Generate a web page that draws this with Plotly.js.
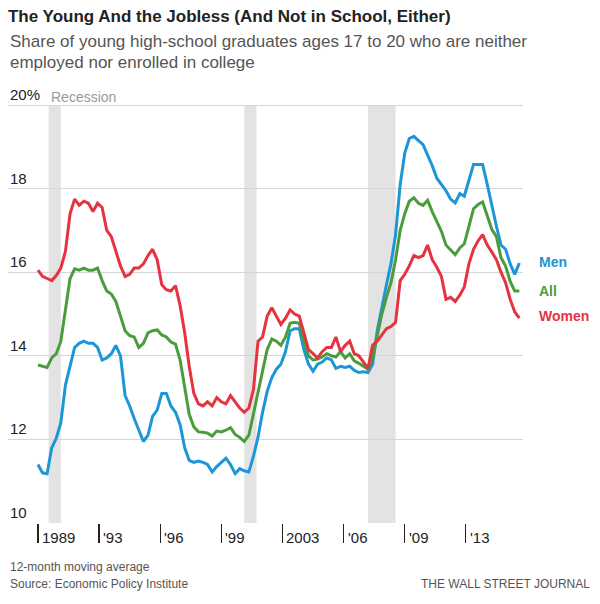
<!DOCTYPE html>
<html>
<head>
<meta charset="utf-8">
<script src="https://cdn.plot.ly/plotly-3.0.1.min.js"></script>
<style>
  body { margin: 0; background: #fff; }
  #chart { width: 600px; height: 604px; }
</style>
</head>
<body>
<div id="chart"></div>
<script>
// quarterly readings, first one is Dec 1989
var startYear = 1989, startMonth = 12;

var men = [11.4, 11.2, 11.18, 11.8, 12.03, 12.4, 13.3, 13.73, 14.2, 14.3,
  14.35, 14.3, 14.3, 14.2, 13.9, 13.95, 14.05, 14.25, 14.0, 13.05,
  12.8, 12.5, 12.2, 11.95, 12.1, 12.55, 12.7, 13.1, 13.1, 12.8,
  12.65, 12.35, 11.8, 11.5, 11.45, 11.48, 11.45, 11.4, 11.22, 11.35,
  11.45, 11.55, 11.4, 11.18, 11.3, 11.25, 11.22, 11.6, 12.06, 12.65,
  13.15, 13.48, 13.68, 13.8, 14.1, 14.6, 14.65, 14.65, 14.15, 13.8,
  13.63, 13.8, 13.85, 13.95, 13.9, 13.7, 13.75, 13.72, 13.75, 13.65,
  13.6, 13.62, 13.6, 13.8, 14.6, 15.2, 15.7, 16.2, 16.9, 18.1,
  18.85, 19.2, 19.25, 19.15, 19.05, 18.8, 18.55, 18.25, 18.1, 17.95,
  17.75, 17.66, 17.88, 17.82, 18.2, 18.58, 18.58, 18.58, 18.1, 17.56,
  17.1, 16.65, 16.55, 16.2, 15.95, 16.22];

var all = [13.78, 13.75, 13.72, 13.95, 14.05, 14.35, 15.1, 15.85, 16.08, 16.05,
  16.1, 16.05, 16.05, 16.1, 15.8, 15.55, 15.48, 15.3, 14.95, 14.6,
  14.48, 14.45, 14.2, 14.3, 14.55, 14.6, 14.62, 14.5, 14.45, 14.33,
  14.28, 13.9, 13.25, 12.6, 12.3, 12.18, 12.17, 12.15, 12.08, 12.2,
  12.18, 12.22, 12.28, 12.12, 12.05, 11.95, 12.1, 12.6, 13.1, 13.6,
  14.15, 14.4, 14.35, 14.25, 14.45, 14.78, 14.8, 14.78, 14.4, 14.0,
  13.9, 13.92, 13.97, 14.05, 14.0, 13.97, 14.1, 13.95, 14.05, 13.88,
  13.82, 13.75, 13.68, 13.95, 14.5, 15.0, 15.4, 15.75, 16.3, 17.0,
  17.4, 17.7, 17.78, 17.65, 17.6, 17.72, 17.45, 17.22, 16.98, 16.65,
  16.53, 16.42, 16.58, 16.68, 17.1, 17.52, 17.62, 17.68, 17.35, 17.02,
  16.85, 16.35, 16.15, 15.78, 15.55, 15.55];

var women = [16.05, 15.9, 15.85, 15.8, 15.92, 16.1, 16.5, 17.4, 17.75, 17.6,
  17.7, 17.65, 17.45, 17.65, 17.55, 17.0, 16.85, 16.5, 16.15, 15.9,
  15.95, 16.1, 16.1, 16.2, 16.4, 16.55, 16.3, 15.7, 15.58, 15.55,
  15.68, 15.2, 14.55, 13.75, 13.1, 12.85, 12.8, 12.9, 12.8, 13.0,
  12.9, 12.85, 13.05, 12.9, 12.75, 12.65, 12.75, 13.2, 14.35, 14.45,
  14.95, 15.15, 14.95, 14.75, 14.9, 15.1, 15.0, 14.95, 14.55, 14.15,
  14.05, 13.95, 14.1, 14.2, 14.2, 14.45, 14.1, 14.25, 14.35, 14.05,
  14.0, 13.85, 13.7, 14.25, 14.35, 14.5, 14.65, 14.7, 14.8, 15.8,
  15.95, 16.15, 16.4, 16.35, 16.4, 16.65, 16.3, 16.12, 15.9, 15.35,
  15.4, 15.3, 15.45, 15.65, 16.2, 16.55, 16.75, 16.9, 16.65, 16.48,
  16.3, 16.0, 15.75, 15.35, 15.05, 14.9];

var recStart = ['1990-07-01', '2001-03-01', '2007-12-01'];
var recEnd = ['1991-03-01', '2001-11-01', '2009-06-01'];

var tickVals = ['1989-12-01', '1993-04-01', '1996-08-01', '1999-12-01',
  '2003-04-01', '2006-08-01', '2009-12-01', '2013-04-01'];
var tickText = ['1989', "'93", "'96", "'99", '2003', "'06", "'09", "'13"];

var yTicks = [10, 12, 14, 16, 18, 20];
var yText = ['10', '12', '14', '16', '18', '20%'];

var colors = { men: '#1c96d6', all: '#4b9c3c', women: '#e5333f' };

// build the quarterly dates
var dates = [];
for (var i = 0; i < men.length; i++) {
  var m = startMonth - 1 + i * 3;
  var y = startYear + Math.floor(m / 12);
  var mm = (m % 12) + 1;
  dates.push(y + '-' + (mm < 10 ? '0' + mm : mm) + '-01');
}

var font = 'Liberation Sans, Arial, Helvetica, sans-serif';

var data = [
  { x: dates, y: men, type: 'scatter', mode: 'lines', name: 'Men',
    line: { color: colors.men, width: 3 }, hoverinfo: 'skip' },
  { x: dates, y: all, type: 'scatter', mode: 'lines', name: 'All',
    line: { color: colors.all, width: 3 }, hoverinfo: 'skip' },
  { x: dates, y: women, type: 'scatter', mode: 'lines', name: 'Women',
    line: { color: colors.women, width: 3 }, hoverinfo: 'skip' }
];

// recession bands run from the 10 line up to the 20 line
var shapes = recStart.map(function (s, i) {
  return { type: 'rect', xref: 'x', yref: 'y', x0: s, x1: recEnd[i], y0: 10, y1: 20,
    fillcolor: '#e3e3e3', line: { width: 0 }, layer: 'below' };
});

// x labels sit to the right of each tick
var annotations = tickVals.map(function (t, i) {
  return { x: t, xref: 'x', y: -0.034, yref: 'paper', text: tickText[i],
    xanchor: 'left', yanchor: 'middle', xshift: 2, showarrow: false,
    font: { family: font, size: 15, color: '#222' } };
});

// y labels sit on top of their gridlines
yTicks.forEach(function (v, i) {
  annotations.push({ x: 0, xref: 'paper', y: v, yref: 'y', text: yText[i],
    xanchor: 'left', yanchor: 'bottom', yshift: 0, showarrow: false,
    font: { family: font, size: 15, color: '#222' } });
});

annotations.push(
  { x: 0, xref: 'paper', y: 1.148, yref: 'paper', xanchor: 'left', yanchor: 'middle',
    text: 'Share of young high-school graduates ages 17 to 20 who are neither',
    showarrow: false, font: { family: font, size: 17, color: '#555' } },
  { x: 0, xref: 'paper', y: 1.100, yref: 'paper', xanchor: 'left', yanchor: 'middle',
    text: 'employed nor enrolled in college',
    showarrow: false, font: { family: font, size: 17, color: '#555' } },
  { x: 0.0796, xref: 'paper', y: 1.017, yref: 'paper', xanchor: 'left', yanchor: 'middle',
    text: 'Recession', showarrow: false, font: { family: font, size: 14, color: '#999' } },
  { x: 1.027, xref: 'paper', y: 0.622, yref: 'paper', xanchor: 'left', yanchor: 'middle',
    text: '<b>Men</b>', showarrow: false, font: { family: font, size: 14, color: colors.men } },
  { x: 1.027, xref: 'paper', y: 0.553, yref: 'paper', xanchor: 'left', yanchor: 'middle',
    text: '<b>All</b>', showarrow: false, font: { family: font, size: 14, color: colors.all } },
  { x: 1.027, xref: 'paper', y: 0.493, yref: 'paper', xanchor: 'left', yanchor: 'middle',
    text: '<b>Women</b>', showarrow: false, font: { family: font, size: 14, color: colors.women } },
  { x: 0, xref: 'paper', y: -0.105, yref: 'paper', xanchor: 'left', yanchor: 'middle',
    text: '12-month moving average', showarrow: false,
    font: { family: font, size: 12, color: '#555' } },
  { x: 0, xref: 'paper', y: -0.146, yref: 'paper', xanchor: 'left', yanchor: 'middle',
    text: 'Source: Economic Policy Institute', showarrow: false,
    font: { family: font, size: 12, color: '#555' } },
  { x: 1.134, xref: 'paper', y: -0.146, yref: 'paper', xanchor: 'right', yanchor: 'middle',
    text: 'THE WALL STREET JOURNAL', showarrow: false,
    font: { family: font, size: 12, color: '#555' } }
);

var layout = {
  width: 600,
  height: 604,
  margin: { l: 8, r: 77, t: 104, b: 81 },
  paper_bgcolor: '#fff',
  plot_bgcolor: '#fff',
  showlegend: false,
  font: { family: font, color: '#222' },
  title: {
    text: '<b>The Young And the Jobless (And Not in School, Either)</b>',
    x: 0.0133, xanchor: 'left', xref: 'container',
    y: 0.973, yanchor: 'middle', yref: 'container',
    font: { family: font, size: 17, color: '#222' }
  },
  xaxis: {
    type: 'date',
    range: ['1988-04-13', '2016-05-13'],
    tickvals: tickVals,
    ticktext: tickText,
    showticklabels: false,
    ticks: 'outside',
    ticklen: 19,
    tickwidth: 1.2,
    tickcolor: '#222',
    showgrid: false,
    zeroline: false,
    showline: false,
    fixedrange: true
  },
  yaxis: {
    range: [10, 20.025],
    tickvals: yTicks,
    showticklabels: false,
    ticks: '',
    showgrid: true,
    gridcolor: '#d6d6d6',
    gridwidth: 1,
    zeroline: false,
    showline: false,
    fixedrange: true
  },
  shapes: shapes,
  annotations: annotations
};

Plotly.newPlot('chart', data, layout, { displayModeBar: false, staticPlot: true });
</script>
</body>
</html>
